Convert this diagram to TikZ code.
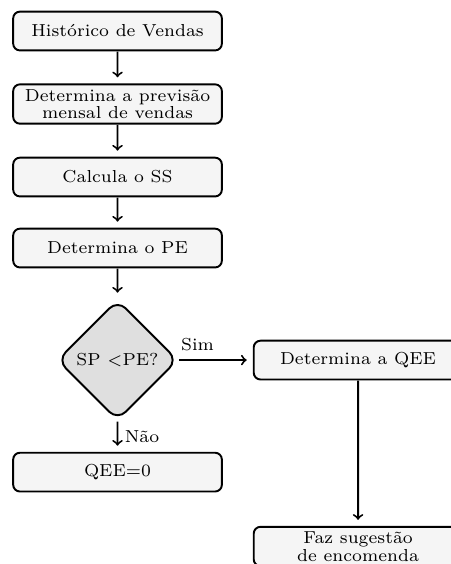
\documentclass[tikz,border=0pt]{standalone}
\usetikzlibrary{shapes.geometric}
\tikzset{
  every node/.style={font=\fontsize{7.2}{7.3}\selectfont, scale=1.25},
  etapa/.style={draw, line width=1pt, rounded corners=3.5pt, fill=gray!8, minimum width=3.04cm, minimum height=0.565cm, align=center, inner sep=2pt},
  decisao/.style={draw, line width=1pt, diamond, aspect=1, rounded corners=6pt, fill=gray!25, minimum width=1.76cm, minimum height=1.76cm, inner sep=1pt},
  seta/.style={->, line width=1pt, shorten >=3pt}
}

\begin{document}
\begin{tikzpicture}
  \useasboundingbox (0,0) rectangle (8.2,-10.27);

  % coluna principal
  \node [etapa] (hist) at (2.14,-0.565) {Histórico de Vendas};
  \node [etapa] (prev) at (2.14,-1.894) {Determina a previsão\\mensal de vendas};
  \node [etapa] (ss) at (2.14,-3.224) {Calcula o SS};
  \node [etapa] (pe) at (2.14,-4.517) {Determina o PE};
  \node [decisao] (teste) at (2.14,-6.557) {SP $<$PE?};
  \node [etapa] (zero) at (2.14,-8.597) {QEE=0};

  % ramo do sim
  \node [etapa] (qee) at (6.52,-6.557) {Determina a QEE};
  \node [etapa] (sugestao) at (6.52,-9.95) {Faz sugestão\\de encomenda};

  \draw [seta] (hist) -- (prev);
  \draw [seta] (prev) -- (ss);
  \draw [seta] (ss) -- (pe);
  \draw [seta] (pe) -- (teste);
  \draw [seta] (teste) -- node [above, pos=0.25] {Sim} (qee);
  \draw [seta] (teste) -- node [right, inner sep=2.5pt] {Não} (zero);
  \draw [seta] (qee) -- (sugestao);
\end{tikzpicture}
\end{document}
